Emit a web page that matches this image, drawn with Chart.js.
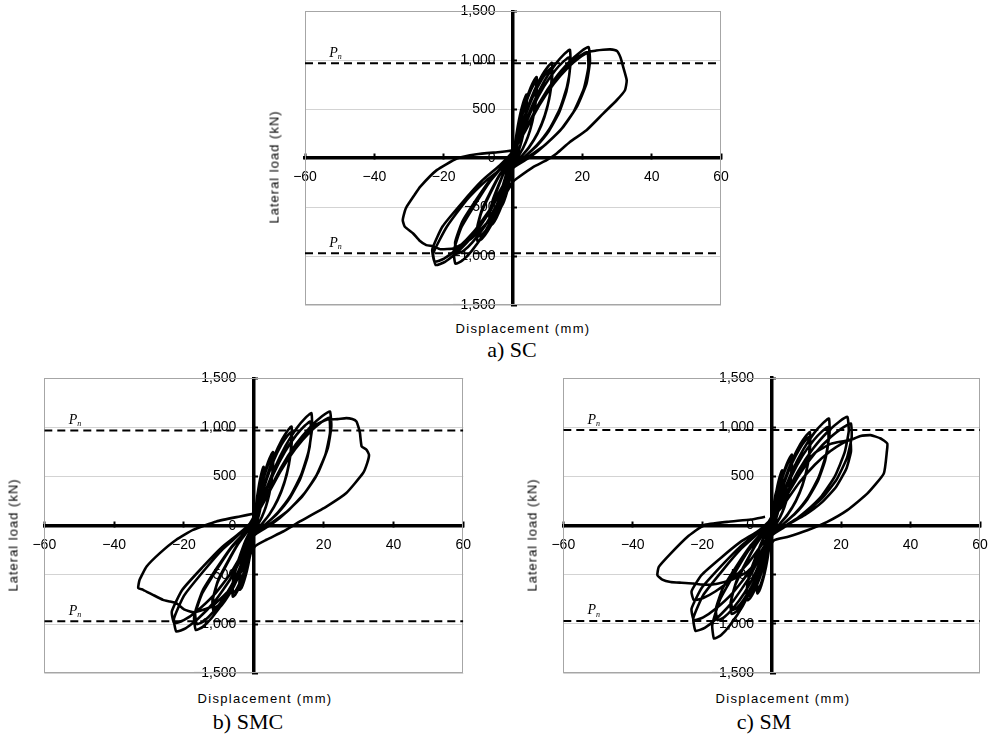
<!DOCTYPE html>
<html><head><meta charset="utf-8">
<script src="https://cdn.jsdelivr.net/npm/chart.js@4/dist/chart.umd.min.js"></script>
<style>
body{margin:0;width:993px;height:738px;position:relative;background:#fff;overflow:hidden;font-family:"Liberation Sans",Arial,sans-serif;color:#000;}
canvas{position:absolute;}
.ytitle{position:absolute;transform:translate(-50%,-50%) rotate(-90deg);white-space:nowrap;font-size:13px;letter-spacing:1px;color:#000;}
.xtitle{position:absolute;transform:translate(-50%,-50%);white-space:nowrap;font-size:13px;letter-spacing:1.3px;color:#000;}
.cap{position:absolute;transform:translate(-50%,-50%);white-space:nowrap;font-family:"Liberation Serif","Times New Roman",serif;font-size:22px;}
</style></head><body>
<canvas id="cA" width="500" height="320" style="left:265px;top:0px"></canvas>
<canvas id="cB" width="500" height="320" style="left:4px;top:365px"></canvas>
<canvas id="cC" width="500" height="320" style="left:523px;top:365px"></canvas>
<div class="ytitle" style="left:274px;top:167px">Lateral load (kN)</div>
<div class="xtitle" style="left:523px;top:328px">Displacement (mm)</div>
<div class="cap" style="left:512px;top:350px">a) SC</div>
<div class="ytitle" style="left:13px;top:535px">Lateral load (kN)</div>
<div class="xtitle" style="left:265px;top:698px">Displacement (mm)</div>
<div class="cap" style="left:248px;top:722px">b) SMC</div>
<div class="ytitle" style="left:532px;top:535px">Lateral load (kN)</div>
<div class="xtitle" style="left:783px;top:698px">Displacement (mm)</div>
<div class="cap" style="left:764px;top:722px">c) SM</div>
<script>
const xTickValues = [-60, -40, -20, 0, 20, 40, 60];
const xTickLabels = ['\u221260', '\u221240', '\u221220', '', '20', '40', '60'];
const yTickValues = [-1500, -1000, -500, 0, 500, 1000, 1500];
const yTickLabels = ['\u22121,500', '\u22121,000', '\u2212500', '0', '500', '1,000', '1,500'];
const pnLevels = [970, -970];
const pnLabelX = -53;

// a) SC  [displacement mm, load kN]
const scCurve = [
[0,0],[0.56,150],[1.12,255],[1.6,300],[1.52,198],[1.02,81],[0.35,6],[0,-40],[-0.48,-135],[-1.15,-238],[-1.6,-270],[-1.44,-178],[-0.64,-59],[-0.27,-19],[0,50],
[0.59,156],[1.37,325],[2.15,462],[2.93,566],[3.51,624],[3.9,650],[3.94,559],[3.71,429],[3.2,293],[2.5,176],[1.64,78],[0.86,13],[0,-60],[-0.43,-125],[-1.08,-250],[-1.8,-355],[-2.59,-440],[-3.17,-485],[-3.6,-500],[-3.71,-440],[-3.24,-330],[-2.34,-215],[-1.44,-110],[-0.61,-35],[0,60],
[0.56,144],[1.3,300],[2.04,426],[2.78,522],[3.33,576],[3.7,600],[3.74,516],[3.52,396],[3.03,270],[2.37,162],[1.55,72],[0.81,12],[0,-55],[-0.42,-118],[-1.05,-235],[-1.75,-334],[-2.52,-414],[-3.08,-456],[-3.5,-470],[-3.61,-414],[-3.15,-310],[-2.28,-202],[-1.4,-103],[-0.6,-33],[0,60],
[1.02,199],[2.38,415],[3.74,589],[5.1,722],[6.12,797],[6.8,830],[6.87,714],[6.46,548],[5.58,374],[4.35,224],[2.86,100],[1.5,17],[0,-70],[-0.79,-173],[-1.98,-345],[-3.3,-490],[-4.75,-607],[-5.81,-669],[-6.6,-690],[-6.8,-607],[-5.94,-455],[-4.29,-297],[-2.64,-152],[-1.12,-48],[0,70],
[0.99,187],[2.31,390],[3.63,554],[4.95,679],[5.94,749],[6.6,780],[6.67,671],[6.27,515],[5.41,351],[4.22,211],[2.77,94],[1.45,16],[0,-65],[-0.78,-163],[-1.95,-325],[-3.25,-462],[-4.68,-572],[-5.72,-631],[-6.5,-650],[-6.7,-572],[-5.85,-429],[-4.23,-280],[-2.6,-143],[-1.1,-46],[0,70],
[1.68,234],[3.92,488],[6.16,692],[8.4,848],[10.08,936],[11.2,975],[11.31,839],[10.64,644],[9.18,439],[7.17,263],[4.7,117],[2.46,20],[0,-80],[-1.22,-213],[-3.06,-425],[-5.1,-604],[-7.34,-748],[-8.98,-825],[-10.2,-850],[-10.5,-748],[-9.18,-561],[-6.63,-366],[-4.08,-187],[-1.73,-60],[0,80],
[1.65,221],[3.85,460],[6.05,653],[8.25,800],[9.9,883],[11,920],[11.11,791],[10.45,607],[9.02,414],[7.04,248],[4.62,110],[2.42,18],[0,-80],[-1.2,-200],[-3,-400],[-5,-568],[-7.2,-704],[-8.8,-776],[-10,-800],[-10.3,-704],[-9,-528],[-6.5,-344],[-4,-176],[-1.7,-56],[0,80],
[2.46,266],[5.74,554],[9.02,787],[12.3,964],[14.76,1064],[16.4,1108],[16.56,953],[15.58,731],[13.45,499],[10.5,299],[6.89,133],[3.61,22],[0,-90],[-1.99,-270],[-4.98,-539],[-8.3,-765],[-11.95,-949],[-14.61,-1046],[-16.6,-1078],[-17.1,-949],[-14.94,-711],[-10.79,-464],[-6.64,-237],[-2.82,-75],[0,80],
[2.43,247],[5.67,515],[8.91,731],[12.15,896],[14.58,989],[16.2,1030],[16.36,886],[15.39,680],[13.28,464],[10.37,278],[6.8,124],[3.56,21],[0,-90],[-1.94,-244],[-4.86,-488],[-8.1,-692],[-11.66,-858],[-14.26,-946],[-16.2,-975],[-16.69,-858],[-14.58,-644],[-10.53,-419],[-6.48,-215],[-2.75,-68],[0,80],
[3.27,273],[7.63,568],[11.99,807],[16.35,988],[19.62,1091],[21.8,1136],[22.2,990],[21.2,762],[18.4,524],[14.5,320],[9.7,150],[4.9,10],[0,-100],[-2.68,-273],[-6.69,-546],[-11.15,-775],[-16.06,-961],[-19.62,-1059],[-22.3,-1092],[-23,-973],[-19.1,-701],[-13.4,-429],[-7.6,-224],[-2.8,-88],[0,70],
[3.23,258],[7.53,538],[11.83,763],[16.13,935],[19.35,1032],[21.5,1075],[21.72,925],[20.43,710],[17.63,484],[13.76,290],[9.03,129],[4.73,22],[0,-100],[-2.71,-265],[-6.78,-529],[-11.3,-751],[-16.27,-931],[-19.89,-1026],[-22.6,-1058],[-23.28,-931],[-20.34,-698],[-14.69,-455],[-9.04,-233],[-3.84,-74],[0,70],
[3.5,280],[8,580],[12.5,810],[17,990],[21,1080],[24,1100],[26,1108],[28,1112],[30,1095],[31,1030],[31.8,930],[32.8,796],[32.3,694],[29.9,592],[26,456],[21.2,286],[16.4,166],[12.6,48],[9.7,-20],[5.9,-88],[1.1,-207],[0,-240],[-3,-420],[-7,-640],[-12,-820],[-17,-920],[-21,-930],[-23,-900],[-25,-888],[-27,-840],[-28.8,-769],[-31.2,-701],[-31.8,-633],[-31.2,-540],[-30.7,-497],[-28.5,-380],[-26.8,-293],[-22,-122],[-16.2,-3],[-10.5,41],[-3.7,64],[0,80]
];

// b) SMC
const smcCurve = [
[0,0],[0.53,175],[1.05,298],[1.5,350],[1.43,231],[0.96,95],[0.33,7],[0,-40],[-0.48,-180],[-1.15,-317],[-1.6,-360],[-1.44,-238],[-0.64,-79],[-0.27,-25],[0,50],
[0.42,144],[0.98,300],[1.54,426],[2.1,522],[2.52,576],[2.8,600],[2.83,516],[2.66,396],[2.3,270],[1.79,162],[1.18,72],[0.62,12],[0,-60],[-0.48,-163],[-1.2,-325],[-2,-462],[-2.88,-572],[-3.52,-631],[-4,-650],[-4.12,-572],[-3.6,-429],[-2.6,-280],[-1.6,-143],[-0.68,-46],[0,60],
[0.41,134],[0.95,280],[1.49,398],[2.03,487],[2.43,538],[2.7,560],[2.73,482],[2.57,370],[2.21,252],[1.73,151],[1.13,67],[0.59,11],[0,-55],[-0.47,-153],[-1.17,-305],[-1.95,-433],[-2.81,-537],[-3.43,-592],[-3.9,-610],[-4.02,-537],[-3.51,-403],[-2.54,-262],[-1.56,-134],[-0.66,-43],[0,60],
[0.83,180],[1.93,375],[3.03,533],[4.13,653],[4.95,720],[5.5,750],[5.56,645],[5.23,495],[4.51,338],[3.52,203],[2.31,90],[1.21,15],[0,-70],[-0.72,-180],[-1.8,-360],[-3,-511],[-4.32,-634],[-5.28,-698],[-6,-720],[-6.18,-634],[-5.4,-475],[-3.9,-310],[-2.4,-158],[-1.02,-50],[0,70],
[0.81,170],[1.89,355],[2.97,504],[4.05,618],[4.86,682],[5.4,710],[5.45,611],[5.13,469],[4.43,320],[3.46,192],[2.27,85],[1.19,14],[0,-70],[-0.71,-170],[-1.77,-340],[-2.95,-483],[-4.25,-598],[-5.19,-660],[-5.9,-680],[-6.08,-598],[-5.31,-449],[-3.84,-292],[-2.36,-150],[-1,-48],[0,70],
[1.62,242],[3.78,505],[5.94,717],[8.1,879],[9.72,970],[10.8,1010],[10.91,869],[10.26,667],[8.86,455],[6.91,273],[4.54,121],[2.38,20],[0,-80],[-1.38,-218],[-3.45,-435],[-5.75,-618],[-8.28,-766],[-10.12,-844],[-11.5,-870],[-11.85,-766],[-10.35,-574],[-7.48,-374],[-4.6,-191],[-1.96,-61],[0,80],
[1.59,228],[3.71,475],[5.83,675],[7.95,827],[9.54,912],[10.6,950],[10.71,817],[10.07,627],[8.69,428],[6.78,257],[4.45,114],[2.33,19],[0,-80],[-1.36,-208],[-3.39,-415],[-5.65,-589],[-8.14,-730],[-9.94,-805],[-11.3,-830],[-11.64,-730],[-10.17,-548],[-7.35,-357],[-4.52,-183],[-1.92,-58],[0,80],
[2.48,275],[5.78,573],[9.08,814],[12.38,997],[14.85,1100],[16.5,1146],[16.67,986],[15.68,756],[13.53,516],[10.56,309],[6.93,138],[3.63,23],[0,-90],[-1.99,-265],[-4.98,-530],[-8.3,-753],[-11.95,-933],[-14.61,-1028],[-16.6,-1060],[-17.1,-933],[-14.94,-700],[-10.79,-456],[-6.64,-233],[-2.82,-74],[0,90],
[2.43,254],[5.67,530],[8.91,753],[12.15,922],[14.58,1018],[16.2,1060],[16.36,912],[15.39,700],[13.28,477],[10.37,286],[6.8,127],[3.56,21],[0,-90],[-1.96,-250],[-4.89,-500],[-8.15,-710],[-11.74,-880],[-14.34,-970],[-16.3,-1000],[-16.79,-880],[-14.67,-660],[-10.6,-430],[-6.52,-220],[-2.77,-70],[0,90],
[3.27,279],[7.63,582],[11.99,826],[16.35,1012],[19.62,1116],[21.8,1163],[22.2,1010],[21.2,790],[18.4,540],[14.5,330],[9.7,150],[4.9,10],[0,-100],[-2.66,-269],[-6.66,-538],[-11.1,-763],[-15.98,-946],[-19.54,-1043],[-22.2,-1075],[-22.87,-946],[-19.98,-710],[-14.43,-462],[-8.88,-237],[-3.77,-75],[0,70],
[3.24,264],[7.56,550],[11.88,781],[16.2,957],[19.44,1056],[21.6,1100],[21.82,946],[20.52,726],[17.71,495],[13.82,297],[9.07,132],[4.75,22],[0,-100],[-2.74,-248],[-6.84,-495],[-11.4,-703],[-16.42,-871],[-20.06,-960],[-22.8,-990],[-23.48,-871],[-20.52,-653],[-14.82,-426],[-9.12,-218],[-3.88,-69],[0,70],
[3.5,290],[8,600],[12.5,840],[17,1010],[21,1080],[24,1085],[26.5,1095],[28.2,1085],[29.4,1061],[30,1000],[30.4,943],[30.9,807],[32.3,773],[33,722],[32.5,640],[31.3,536],[26.5,333],[20.8,196],[13.2,44],[8.4,-58],[3.6,-142],[0.3,-210],[-3,-430],[-7,-650],[-12,-820],[-17,-880],[-20,-850],[-22.2,-786],[-24,-770],[-26,-753],[-28.9,-702],[-31.7,-651],[-33.1,-634],[-32.7,-549],[-30.7,-414],[-26.9,-278],[-22.2,-142],[-17.4,-41],[-10.7,44],[-4,95],[-0.2,122]
];

// c) SM
const smCurve = [
[0,0],[0.53,180],[1.05,306],[1.5,360],[1.43,238],[0.96,97],[0.33,7],[0,-40],[-0.48,-175],[-1.15,-308],[-1.6,-350],[-1.44,-231],[-0.64,-77],[-0.27,-25],[0,50],
[0.45,134],[1.05,280],[1.65,398],[2.25,487],[2.7,538],[3,560],[3.03,482],[2.85,370],[2.46,252],[1.92,151],[1.26,67],[0.66,11],[0,-60],[-0.49,-173],[-1.23,-345],[-2.05,-490],[-2.95,-607],[-3.61,-669],[-4.1,-690],[-4.22,-607],[-3.69,-455],[-2.67,-297],[-1.64,-152],[-0.7,-48],[0,60],
[0.44,127],[1.02,265],[1.6,376],[2.18,461],[2.61,509],[2.9,530],[2.93,456],[2.76,350],[2.38,239],[1.86,143],[1.22,64],[0.64,11],[0,-55],[-0.48,-163],[-1.2,-325],[-2,-462],[-2.88,-572],[-3.52,-631],[-4,-650],[-4.12,-572],[-3.6,-429],[-2.6,-280],[-1.6,-143],[-0.68,-46],[0,60],
[0.87,173],[2.03,360],[3.19,511],[4.35,626],[5.22,691],[5.8,720],[5.86,619],[5.51,475],[4.76,324],[3.71,194],[2.44,86],[1.28,14],[0,-70],[-0.84,-190],[-2.1,-380],[-3.5,-540],[-5.04,-669],[-6.16,-737],[-7,-760],[-7.21,-669],[-6.3,-502],[-4.55,-327],[-2.8,-167],[-1.19,-53],[0,70],
[0.86,166],[2,345],[3.14,490],[4.28,600],[5.13,662],[5.7,690],[5.76,593],[5.42,455],[4.67,311],[3.65,186],[2.39,83],[1.25,14],[0,-70],[-0.83,-180],[-2.07,-360],[-3.45,-511],[-4.97,-634],[-6.07,-698],[-6.9,-720],[-7.11,-634],[-6.21,-475],[-4.49,-310],[-2.76,-158],[-1.17,-50],[0,70],
[1.65,228],[3.85,475],[6.05,675],[8.25,827],[9.9,912],[11,950],[11.11,817],[10.45,627],[9.02,428],[7.04,257],[4.62,114],[2.42,19],[0,-80],[-1.38,-225],[-3.45,-450],[-5.75,-639],[-8.28,-792],[-10.12,-873],[-11.5,-900],[-11.85,-792],[-10.35,-594],[-7.48,-387],[-4.6,-198],[-1.96,-63],[0,80],
[1.62,216],[3.78,450],[5.94,639],[8.1,783],[9.72,864],[10.8,900],[10.91,774],[10.26,594],[8.86,405],[6.91,243],[4.54,108],[2.38,18],[0,-80],[-1.36,-215],[-3.39,-430],[-5.65,-611],[-8.14,-757],[-9.94,-834],[-11.3,-860],[-11.64,-757],[-10.17,-568],[-7.35,-370],[-4.52,-189],[-1.92,-60],[0,80],
[2.48,261],[5.78,544],[9.08,772],[12.38,947],[14.85,1044],[16.5,1088],[16.67,936],[15.68,718],[13.53,490],[10.56,294],[6.93,131],[3.63,22],[0,-90],[-1.99,-288],[-4.98,-575],[-8.3,-817],[-11.95,-1012],[-14.61,-1116],[-16.6,-1150],[-17.1,-1012],[-14.94,-759],[-10.79,-495],[-6.64,-253],[-2.82,-81],[0,90],
[2.43,240],[5.67,500],[8.91,710],[12.15,870],[14.58,960],[16.2,1000],[16.36,860],[15.39,660],[13.28,450],[10.37,270],[6.8,120],[3.56,20],[0,-90],[-1.87,-241],[-4.68,-482],[-7.8,-684],[-11.23,-847],[-13.73,-934],[-15.6,-963],[-16.07,-847],[-14.04,-636],[-10.14,-414],[-6.24,-212],[-2.65,-67],[0,90],
[3.27,265],[7.63,553],[11.99,785],[16.35,961],[19.62,1061],[21.8,1105],[22.2,960],[21,740],[18.2,500],[14.4,300],[9.7,140],[4.9,10],[0,-100],[-2.63,-268],[-6.57,-536],[-10.95,-761],[-15.77,-943],[-19.27,-1040],[-21.9,-1072],[-22.56,-943],[-19.71,-708],[-14.24,-461],[-8.76,-236],[-3.72,-75],[0,70],
[3.42,249],[7.98,519],[12.54,737],[17.1,903],[20.52,996],[22.8,1038],[23.03,893],[21.66,685],[18.7,467],[14.59,280],[9.58,125],[5.02,21],[0,-100],[-2.69,-241],[-6.72,-482],[-11.2,-684],[-16.13,-847],[-19.71,-934],[-22.4,-963],[-23.07,-847],[-20.16,-636],[-14.56,-414],[-8.96,-212],[-3.81,-67],[0,70],
[3.39,209],[7.91,435],[12.43,618],[16.95,757],[20.34,835],[22.6,870],[22.83,748],[21.47,574],[18.53,392],[14.46,235],[9.49,104],[4.97,17],[0,-100],[-2.69,-190],[-6.72,-380],[-11.2,-540],[-16.13,-669],[-19.71,-737],[-22.4,-760],[-23.07,-669],[-20.16,-502],[-14.56,-327],[-8.96,-167],[-3.81,-53],[0,70],
[3.5,270],[8,560],[12.5,740],[17,830],[21,860],[23.5,880],[25.6,911],[28.5,919],[31.4,885],[33.3,834],[33.2,760],[32.3,529],[27.6,326],[21.8,156],[16,37],[10.3,-48],[4.5,-116],[0.7,-150],[-3,-330],[-7,-470],[-12,-560],[-17,-600],[-20,-600],[-22.4,-590],[-26,-582],[-29.1,-574],[-31.5,-550],[-32.9,-506],[-32.5,-420],[-29.1,-285],[-24.3,-116],[-19.5,3],[-12.8,37],[-6,61],[-1.9,88]
];

const FONT = '"Liberation Sans", Arial, sans-serif';

const framePlugin = {
  id: 'frame',
  beforeDatasetsDraw(chart) {
    const {ctx, chartArea: a} = chart;
    ctx.save();
    ctx.strokeStyle = '#a6a6a6';
    ctx.lineWidth = 1;
    ctx.strokeRect(Math.round(a.left) + 0.5, Math.round(a.top) + 0.5, Math.round(a.width) - 1, Math.round(a.height) - 1);
    ctx.restore();
  },
  afterDatasetsDraw(chart) {
    const {ctx, scales: {x, y}} = chart;
    ctx.save();
    ctx.fillStyle = '#000';
    ctx.textAlign = 'left';
    ctx.textBaseline = 'alphabetic';
    pnLevels.forEach(v => {
      const px = x.getPixelForValue(pnLabelX);
      const py = y.getPixelForValue(v);
      ctx.font = 'italic 14px "Liberation Serif", serif';
      ctx.fillText('P', px, py - 6.5);
      ctx.font = 'italic 8px "Liberation Serif", serif';
      ctx.fillText('n', px + 8.5, py - 4);
    });
    ctx.restore();
  }
};

function makePanel(id, curve, pad) {
  const xMin = xTickValues[0], xMax = xTickValues[xTickValues.length - 1];
  const yMin = yTickValues[0], yMax = yTickValues[yTickValues.length - 1];
  const datasets = pnLevels.map(v => ({
    data: [{x: xMin, y: v}, {x: xMax, y: v}],
    showLine: true, borderColor: '#000', borderWidth: 2, borderDash: [8, 5], pointRadius: 0
  }));
  datasets.push({
    data: curve.map(p => ({x: p[0], y: p[1]})),
    showLine: true, borderColor: '#000', borderWidth: 2.6, pointRadius: 0, tension: 0.15
  });
  return new Chart(document.getElementById(id), {
    type: 'scatter',
    data: {datasets},
    options: {
      responsive: false, animation: false, devicePixelRatio: 1,
      layout: {padding: pad},
      plugins: {legend: {display: false}, tooltip: {enabled: false}},
      scales: {
        x: {
          type: 'linear', position: {y: 0}, min: xMin, max: xMax,
          afterBuildTicks: s => { s.ticks = xTickValues.map(v => ({value: v})); },
          grid: {drawOnChartArea: false, drawTicks: true, tickLength: -6, tickColor: '#000', tickWidth: 2},
          border: {display: true, color: '#000', width: 3.5},
          ticks: {autoSkip: false, maxRotation: 0, padding: 17, color: '#000', font: {family: FONT, size: 14},
            callback: (v, i) => xTickLabels[i]}
        },
        y: {
          type: 'linear', position: {x: 0}, min: yMin, max: yMax,
          afterBuildTicks: s => { s.ticks = yTickValues.map(v => ({value: v})); },
          grid: {drawOnChartArea: true, drawTicks: true, tickLength: -6, tickColor: '#000', tickWidth: 2,
            lineWidth: 1, color: c => (c.tick && c.tick.value === 0) ? 'rgba(0,0,0,0)' : '#d3d3d3'},
          border: {display: true, color: '#000', width: 3.5},
          ticks: {autoSkip: false, color: '#000', font: {family: FONT, size: 14},
            callback: (v, i) => yTickLabels[i] + '\u2003\u2005'}
        }
      }
    },
    plugins: [framePlugin]
  });
}

makePanel('cA', scCurve, {left: 40, right: 44, top: 11, bottom: 15});
makePanel('cB', smcCurve, {left: 40.3, right: 40.7, top: 13.3, bottom: 11.7});
makePanel('cC', smCurve, {left: 40.3, right: 43, top: 13, bottom: 12});
</script>
</body></html>
